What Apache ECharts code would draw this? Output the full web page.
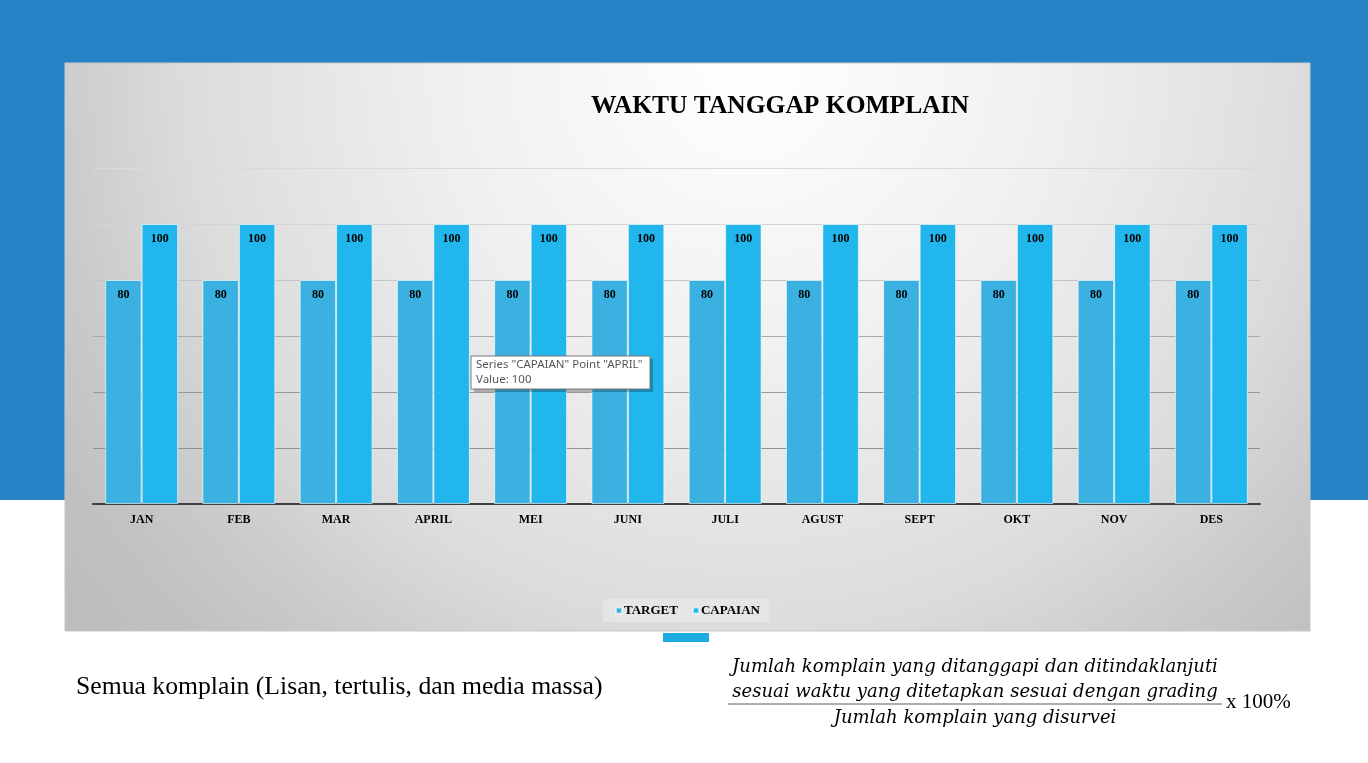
<!DOCTYPE html>
<html>
<head>
<meta charset="utf-8">
<script src="https://cdn.jsdelivr.net/npm/echarts@6/dist/echarts.min.js"></script>
<style>
  html, body {margin: 0; padding: 0; background: #fff;}
  #chart {width: 1368px; height: 763px;}
</style>
</head>
<body>
<div id="chart"></div>
<script>
const months = ['JAN', 'FEB', 'MAR', 'APRIL', 'MEI', 'JUNI', 'JULI', 'AGUST', 'SEPT', 'OKT', 'NOV', 'DES'];
const target = [80, 80, 80, 80, 80, 80, 80, 80, 80, 80, 80, 80];
const capaian = [100, 100, 100, 100, 100, 100, 100, 100, 100, 100, 100, 100];

const serif = '"Liberation Serif", "Times New Roman", serif';
const labelStyle = {fontFamily: serif, fontWeight: 'bold', fontSize: 12, color: '#000'};
const mathFont = 'italic 18px "DejaVu Serif", serif';

const chart = echarts.init(document.getElementById('chart'), null, {renderer: 'canvas'});

chart.setOption({
  animation: false,
  backgroundColor: '#fff',
  title: {
    text: 'WAKTU TANGGAP KOMPLAIN',
    left: 780, top: 88, textAlign: 'center',
    textStyle: {fontFamily: serif, fontWeight: 'bold', fontSize: 25.5, color: '#000'}
  },
  legend: {
    data: ['TARGET', 'CAPAIAN'],
    left: 603, top: 599,
    icon: 'rect', itemWidth: 6, itemHeight: 6, itemGap: 14,
    backgroundColor: '#e5e5e5',
    padding: [5, 10, 5, 12],
    textStyle: Object.assign({}, labelStyle, {fontSize: 13, padding: [0, 0, 0, -3]})
  },
  grid: {left: 93, right: 108, top: 168, bottom: 259},
  xAxis: {
    type: 'category',
    data: months,
    axisLine: {lineStyle: {color: '#404040', width: 2}},
    axisTick: {show: false},
    axisLabel: Object.assign({}, labelStyle, {margin: 10})
  },
  yAxis: {
    type: 'value',
    min: 0, max: 120, interval: 20,
    axisLabel: {show: false},
    axisLine: {show: false},
    axisTick: {show: false},
    splitLine: {lineStyle: {color: ['#909090', '#909090', '#989898', '#aaaaaa', '#c4c4c4', '#d4d4d4', '#dadada'], width: 1}}
  },
  series: [
    {
      name: 'TARGET', type: 'bar', data: target,
      barGap: '0%', barCategoryGap: '25%',
      itemStyle: {color: '#3bb1e2', borderColor: 'rgba(255,255,255,0.6)', borderWidth: 1},
      label: Object.assign({show: true, position: 'insideTop', distance: 9}, labelStyle)
    },
    {
      name: 'CAPAIAN', type: 'bar', data: capaian,
      itemStyle: {color: '#21b6ec', borderColor: 'rgba(255,255,255,0.6)', borderWidth: 1},
      label: Object.assign({show: true, position: 'insideTop', distance: 9}, labelStyle)
    }
  ],
  graphic: [
    {type: 'rect', z: -20, silent: true, shape: {x: 0, y: 0, width: 1368, height: 500}, style: {fill: '#2683c6'}},
    {
      type: 'rect', z: -15, silent: true,
      shape: {x: 65, y: 63, width: 1245, height: 568},
      style: {
        fill: new echarts.graphic.RadialGradient(0.55, 0.0, 1.6, [
          {offset: 0, color: '#ffffff'},
          {offset: 0.33, color: '#f0f0f0'},
          {offset: 0.62, color: '#dcdcdc'},
          {offset: 0.77, color: '#cacaca'},
          {offset: 0.88, color: '#c0c0c0'},
          {offset: 1, color: '#bcbcbc'}
        ]),
        stroke: '#c8c8c8', lineWidth: 1
      }
    },
    {type: 'rect', z: -10, silent: true, shape: {x: 663, y: 633, width: 46, height: 9}, style: {fill: '#1cace3'}},
    {type: 'rect', z: 100, silent: true, shape: {x: 474, y: 359, width: 179, height: 33}, style: {fill: 'rgba(0,0,0,0.25)'}},
    {type: 'rect', z: 101, silent: true, shape: {x: 471, y: 356, width: 179, height: 33}, style: {fill: '#fff', stroke: '#767676', lineWidth: 1}},
    {type: 'text', z: 102, silent: true, style: {x: 476, y: 357, text: 'Series "CAPAIAN" Point "APRIL"\nValue: 100', fill: '#575757', font: '11.5px "Noto Sans", "Open Sans", sans-serif', lineHeight: 15}},
    {
      type: 'text', silent: true,
      style: {x: 76, y: 674, text: 'Semua komplain (Lisan, tertulis, dan media massa)', fill: '#000', font: '25.7px ' + serif}
    },
    {
      type: 'text', silent: true,
      style: {x: 975, y: 658, text: 'Jumlah komplain yang ditanggapi dan ditindaklanjuti', textAlign: 'center', fill: '#000', font: mathFont}
    },
    {
      type: 'text', silent: true,
      style: {x: 975, y: 683, text: 'sesuai waktu yang ditetapkan sesuai dengan grading', textAlign: 'center', fill: '#000', font: mathFont}
    },
    {type: 'line', silent: true, shape: {x1: 728, y1: 704, x2: 1222, y2: 704}, style: {stroke: '#6e5652', lineWidth: 1}},
    {
      type: 'text', silent: true,
      style: {x: 975, y: 709, text: 'Jumlah komplain yang disurvei', textAlign: 'center', fill: '#000', font: mathFont}
    },
    {
      type: 'text', silent: true,
      style: {x: 1226, y: 692, text: 'x 100%', fill: '#000', font: '21px ' + serif}
    }
  ]
});
chart.setOption({title: {left: 775}});
</script>
</body>
</html>
